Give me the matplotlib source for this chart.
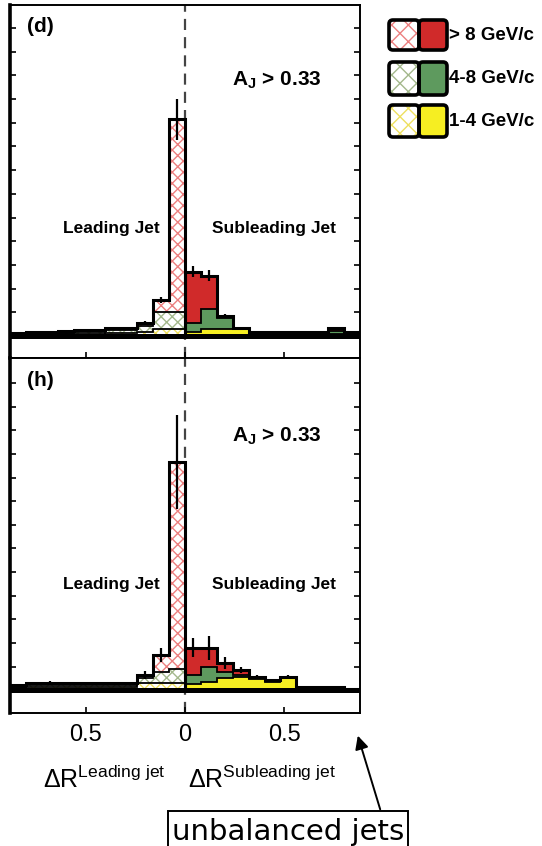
import numpy as np
import matplotlib
matplotlib.use('Agg')
import matplotlib.pyplot as plt
from matplotlib.patches import FancyBboxPatch, Rectangle

plt.rcParams['font.family'] = ['Liberation Sans', 'DejaVu Sans']
plt.rcParams['mathtext.fontset'] = 'custom'
plt.rcParams['mathtext.rm'] = 'Liberation Sans'
plt.rcParams['mathtext.it'] = 'Liberation Sans:italic'
plt.rcParams['mathtext.bf'] = 'Liberation Sans:bold'
plt.rcParams['hatch.linewidth'] = 1.0

# ---------------- data ----------------
# Delta R bin edges (distance from jet axis), same on both sides
bin_edges = [0.0, 0.08, 0.16, 0.24, 0.32, 0.40, 0.48, 0.56, 0.64, 0.72, 0.80, 0.88]

pt_classes = ['> 8 GeV/c', '4-8 GeV/c', '1-4 GeV/c']

# panel (d): leading-jet side (bin 0 nearest to the axis)
d_lead_yellow = [0.30, 0.30, 0.18, 0.12, 0.12, 0.09, 0.09, 0.07, 0.06, 0.05, 0.04]
d_lead_green  = [0.72, 0.72, 0.22, 0.12, 0.12, 0.08, 0.08, 0.07, 0.06, 0.05, 0.04]
d_lead_red    = [8.12, 0.49, 0.15, 0.10, 0.10, 0.08, 0.08, 0.06, 0.06, 0.05, 0.04]
d_lead_err    = [0.85, 0.12, 0.08, 0.05, 0.05, 0.04, 0.04, 0.03, 0.03, 0.03, 0.03]
# panel (d): subleading-jet side
d_sub_yellow = [0.15, 0.28, 0.30, 0.28, 0.08, 0.07, 0.06, 0.06, 0.06, 0.10, 0.05]
d_sub_green  = [0.40, 0.84, 0.46, 0.04, 0.05, 0.05, 0.05, 0.05, 0.06, 0.12, 0.05]
d_sub_red    = [2.17, 1.43, 0.08, 0.02, 0.04, 0.05, 0.04, 0.04, 0.05, 0.11, 0.05]
d_sub_err    = [0.25, 0.22, 0.08, 0.05, 0.04, 0.04, 0.04, 0.04, 0.04, 0.05, 0.03]

# panel (h): leading-jet side
h_lead_yellow = [0.30, 0.28, 0.30, 0.15, 0.14, 0.14, 0.12, 0.12, 0.12, 0.12, 0.08]
h_lead_green  = [0.60, 0.50, 0.20, 0.08, 0.08, 0.08, 0.08, 0.09, 0.10, 0.09, 0.06]
h_lead_red    = [8.77, 0.70, 0.14, 0.07, 0.08, 0.08, 0.08, 0.09, 0.10, 0.09, 0.06]
h_lead_err    = [2.00, 0.30, 0.15, 0.05, 0.05, 0.05, 0.05, 0.05, 0.05, 0.05, 0.04]
# panel (h): subleading-jet side
h_sub_yellow = [0.25, 0.35, 0.50, 0.55, 0.45, 0.35, 0.50, 0.05, 0.05, 0.05, 0.02]
h_sub_green  = [0.39, 0.65, 0.28, 0.11, 0.06, 0.04, 0.03, 0.04, 0.04, 0.04, 0.02]
h_sub_red    = [1.15, 0.79, 0.36, 0.19, 0.05, 0.03, 0.03, 0.05, 0.05, 0.05, 0.01]
h_sub_err    = [0.40, 0.50, 0.25, 0.12, 0.06, 0.05, 0.06, 0.03, 0.03, 0.03, 0.02]

xtick_vals = [-0.5, 0.0, 0.5]
xtick_labels = ['0.5', '0', '0.5']

# ---------------- styles ----------------
solid_colors = {'red': '#d02a2a', 'green': '#5e9a5e', 'yellow': '#f6ee22'}
hatch_colors = {'red': '#ec8080', 'green': '#a4b88c', 'yellow': '#eee060'}

W, H = 542, 846
fig = plt.figure(figsize=(W / 100, H / 100), dpi=100)


def px_axes(x0, y0, x1, y1):
    return fig.add_axes([x0 / W, 1 - y1 / H, (x1 - x0) / W, (y1 - y0) / H])


def draw_side(ax, edges, yellow, green, red, err, left):
    yellow = np.asarray(yellow); green = np.asarray(green); red = np.asarray(red)
    err = np.asarray(err)
    e = np.asarray(edges)
    c1 = yellow
    c2 = c1 + green
    c3 = c2 + red
    if left:
        xe = -e[::-1]
        c1, c2, c3, err = c1[::-1], c2[::-1], c3[::-1], err[::-1]
    else:
        xe = e
    layers = [(np.zeros_like(c1), c1, 'yellow'), (c1, c2, 'green'), (c2, c3, 'red')]
    for lo, hi, key in layers:
        if left:
            ax.stairs(hi, xe, baseline=lo, fill=True, facecolor='white',
                      edgecolor=hatch_colors[key], hatch='xxx', linewidth=0, zorder=2)
        else:
            ax.stairs(hi, xe, baseline=lo, fill=True, facecolor=solid_colors[key],
                      edgecolor=solid_colors[key], linewidth=0, zorder=2)
    ax.stairs(c1, xe, baseline=None, fill=False, color='k', lw=1.3, zorder=3)
    ax.stairs(c2, xe, baseline=None, fill=False, color='k', lw=1.3, zorder=3)
    ax.stairs(c3, xe, baseline=0, fill=False, color='k', lw=2.2, zorder=4)
    centers = 0.5 * (xe[:-1] + xe[1:])
    ax.errorbar(centers, c3, yerr=err, fmt='none', ecolor='k', elinewidth=1.6,
                capsize=0, zorder=5)


def setup_panel(ax, ylim, nticks, show_labels):
    ax.set_xlim(-0.88, 0.88)
    ax.set_ylim(*ylim)
    ax.axvline(0, color='#444444', lw=1.6, dashes=(5, 3.2), zorder=1)
    ax.axhline(0, color='k', lw=3.6, zorder=6)
    ax.set_yticks(np.arange(1, nticks + 1))
    ax.set_xticks(xtick_vals)
    ax.tick_params(axis='y', which='both', direction='in', left=True, right=True,
                   labelleft=False, length=4, width=1.2)
    ax.tick_params(axis='x', direction='in', bottom=True, top=False, length=4,
                   width=1.2, labelsize=17, pad=8, labelbottom=show_labels)
    if show_labels:
        ax.set_xticklabels(xtick_labels)
    for s in ax.spines.values():
        s.set_linewidth(1.4)
    ax.spines['left'].set_linewidth(2.6)


ax_d = px_axes(10, 5, 360, 358)
draw_side(ax_d, bin_edges, d_lead_yellow, d_lead_green, d_lead_red, d_lead_err, True)
draw_side(ax_d, bin_edges, d_sub_yellow, d_sub_green, d_sub_red, d_sub_err, False)
setup_panel(ax_d, (-0.93, 13.97), 13, False)

ax_h = px_axes(10, 358, 360, 713)
draw_side(ax_h, bin_edges, h_lead_yellow, h_lead_green, h_lead_red, h_lead_err, True)
draw_side(ax_h, bin_edges, h_sub_yellow, h_sub_green, h_sub_red, h_sub_err, False)
setup_panel(ax_h, (-0.97, 14.07), 13, True)

# ---------------- overlay for annotations (pixel coords) ----------------
ov = fig.add_axes([0, 0, 1, 1], zorder=10)
ov.set_xlim(0, W)
ov.set_ylim(H, 0)
ov.axis('off')
ov.patch.set_alpha(0)

for (label, yoff) in [('(d)', 0), ('(h)', 355)]:
    ov.text(27, 26 + yoff, label, fontsize=15, fontweight='bold', ha='left', va='center')
    ov.text(232, 80 + yoff + (1 if yoff else 0), r'$\mathbf{A}_{\mathbf{J}}$' + ' > 0.33',
            fontsize=15, fontweight='bold', ha='left', va='center')
    ov.text(111, 225 + yoff + 4, 'Leading Jet', fontsize=12.5, fontweight='bold',
            ha='center', va='center')
    ov.text(274, 225 + yoff + 4, 'Subleading Jet', fontsize=12.5, fontweight='bold',
            ha='center', va='center')

# legend
rows_y = [(20, 50), (62, 95), (105, 137)]
keys = ['red', 'green', 'yellow']
for (y0, y1), key, lab in zip(rows_y, keys, pt_classes):
    hb = FancyBboxPatch((389, y0), 30, y1 - y0, boxstyle='round,pad=0,rounding_size=4',
                        facecolor='white', edgecolor=hatch_colors[key], hatch='xx', lw=0)
    ov.add_patch(hb)
    sb = FancyBboxPatch((419, y0), 28, y1 - y0, boxstyle='round,pad=0,rounding_size=4',
                        facecolor=solid_colors[key], edgecolor='k', lw=0)
    ov.add_patch(sb)
    for x0, w in [(389, 30), (419, 28)]:
        ob = FancyBboxPatch((x0, y0), w, y1 - y0, boxstyle='round,pad=0,rounding_size=4',
                            fill=False, edgecolor='k', lw=2.6)
        ov.add_patch(ob)
    ov.text(449, 0.5 * (y0 + y1), lab, fontsize=13.5, fontweight='bold',
            ha='left', va='center')

# axis titles
ov.text(43, 788, r'$\Delta\mathrm{R}^{\mathrm{Leading\ jet}}$', fontsize=18,
        ha='left', va='baseline')
ov.text(188, 788, r'$\Delta\mathrm{R}^{\mathrm{Subleading\ jet}}$', fontsize=18,
        ha='left', va='baseline')

# unbalanced jets box + arrow
ov.add_patch(Rectangle((168, 811), 240, 45, facecolor='white', edgecolor='k', lw=1.4))
ov.text(288, 840, 'unbalanced jets', fontsize=21, family='DejaVu Sans',
        ha='center', va='baseline')
ov.annotate('', xy=(357, 733), xytext=(381, 812),
            arrowprops=dict(arrowstyle='-|>', color='k', lw=1.4, mutation_scale=20))

fig.savefig('out.png', dpi=100)
